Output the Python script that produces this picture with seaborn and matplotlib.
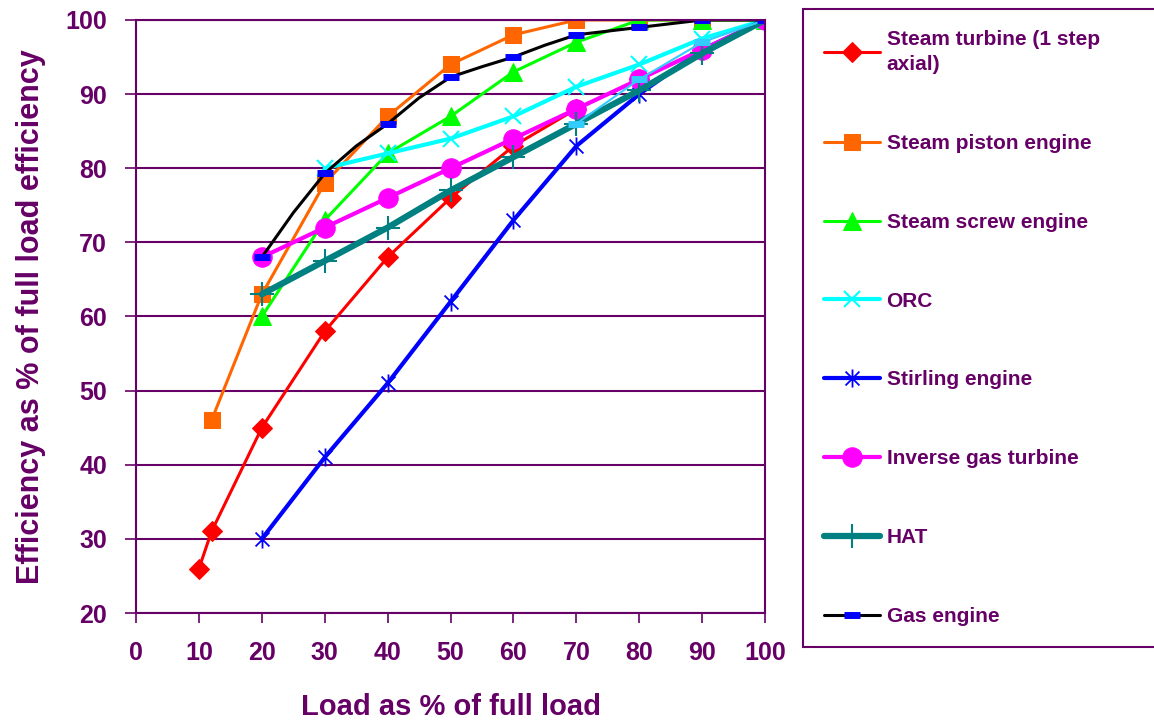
import seaborn as sns
import numpy as np
import pandas as pd
import matplotlib.pyplot as plt
from matplotlib.path import Path

# values
turbine_load = [10, 12, 20, 30, 40, 50, 60, 70, 80, 90, 100]
turbine_eff = [26, 31, 45, 58, 68, 76, 83, 88, 92, 96, 100]
piston_load = [12, 20, 30, 40, 50, 60, 70, 80, 90, 100]
piston_eff = [46, 63, 78, 87, 94, 98, 100, 100, 100, 100]
screw_load = [20, 30, 40, 50, 60, 70, 80, 90, 100]
screw_eff = [60, 73, 82, 87, 93, 97, 100, 100, 100]
orc_load = [30, 40, 50, 60, 70, 80, 90, 100]
orc_eff = [80, 82, 84, 87, 91, 94, 97.5, 100]
stirling_load = [20, 30, 40, 50, 60, 70, 80, 90, 100]
stirling_eff = [30, 41, 51, 62, 73, 83, 90, 96, 100]
igt_load = [20, 30, 40, 50, 60, 70, 80, 90, 100]
igt_eff = [68, 72, 76, 80, 84, 88, 92, 96, 100]
hat_load = [20, 30, 40, 50, 60, 70, 80, 90, 100]
hat_eff = [63, 67.5, 72, 77, 81.5, 86, 90.5, 95.5, 100]
gas_load = [20, 25, 30, 35, 40, 45, 50, 55, 60, 65, 70, 75, 80, 85, 90, 95, 100]
gas_eff = [68, 74, 79.3, 83, 86, 89.5, 92.3, 93.7, 95, 96.6, 98, 98.5, 99, 99.5, 100, 100, 100]
extra_load = [70, 80, 90, 100]
extra_eff = [86, 92, 97, 100]

labels = ['Steam turbine (1 step\naxial)', 'Steam piston engine', 'Steam screw engine',
          'ORC', 'Stirling engine', 'Inverse gas turbine', 'HAT', 'Gas engine']

purple = '#660066'

asterisk = Path([(-1, -1), (1, 1), (-1, 1), (1, -1), (0, -1.3), (0, 1.3)],
                [Path.MOVETO, Path.LINETO, Path.MOVETO, Path.LINETO, Path.MOVETO, Path.LINETO])

sns.set_style('white')
plt.rcParams['font.family'] = ['Liberation Sans', 'DejaVu Sans']
plt.rcParams['font.weight'] = 'bold'

fig = plt.figure(figsize=(11.54, 7.24), dpi=100)
ax = fig.add_axes([0.1179, 0.1533, 0.5451, 0.8191])

sns.lineplot(x=turbine_load, y=turbine_eff, ax=ax, color='#FF0000', lw=2.2, marker='D',
             ms=10, mec='#FF0000', label=labels[0])
sns.lineplot(x=piston_load, y=piston_eff, ax=ax, color='#FF6600', lw=2.2, marker='s',
             ms=12, mec='#FF6600', label=labels[1])
sns.lineplot(x=screw_load, y=screw_eff, ax=ax, color='#00FF00', lw=2.2, marker='^',
             ms=13, mec='#00FF00', label=labels[2])
sns.lineplot(x=orc_load, y=orc_eff, ax=ax, color='#00FFFF', lw=3, marker='x',
             ms=11, mew=1.5, mec='#00FFFF', label=labels[3])
sns.lineplot(x=stirling_load, y=stirling_eff, ax=ax, color='#0000FF', lw=3, marker=asterisk,
             ms=13, mew=1.3, mec='#0000FF', mfc='none', label=labels[4])
sns.lineplot(x=igt_load, y=igt_eff, ax=ax, color='#FF00FF', lw=3, marker='o',
             ms=14, mec='#FF00FF', label=labels[5])
sns.lineplot(x=hat_load, y=hat_eff, ax=ax, color='#008080', lw=4.5, marker='+',
             ms=17, mew=1.5, mec='#008080', label=labels[6])
sns.lineplot(x=extra_load, y=extra_eff, ax=ax, color='#33CCFF', lw=1.5, marker='_',
             ms=11, mew=5, mec='#33CCFF', legend=False)
sns.lineplot(x=gas_load, y=gas_eff, ax=ax, color='black', lw=2.2, marker='_',
             ms=11, mew=5, mec='#0000FF', markevery=2, label=labels[7])

ax.set_xlim(0, 100)
ax.set_ylim(20, 100)
ax.set_xticks(np.arange(0, 101, 10))
ax.set_yticks(np.arange(20, 101, 10))
ax.yaxis.grid(True, color=purple, lw=1.5)
ax.xaxis.grid(False)
for s in ax.spines.values():
    s.set_color(purple)
    s.set_linewidth(1.5)
ax.tick_params(axis='x', direction='out', length=7.5, width=1.2, color=purple,
               labelcolor=purple, labelsize=18, pad=13, bottom=True)
ax.tick_params(axis='y', direction='out', length=8, width=1.2, color=purple,
               labelcolor=purple, labelsize=18, pad=13, left=True)
for t in ax.get_xticklabels() + ax.get_yticklabels():
    t.set_fontweight('bold')

ax.set_xlabel('Load as % of full load', fontsize=21, fontweight='bold', color=purple,
              labelpad=20)
ax.set_ylabel('Efficiency as % of full load efficiency', fontsize=22, fontweight='bold',
              color=purple, labelpad=14)

ax.get_legend().remove()
handles, labs = ax.get_legend_handles_labels()
leg = fig.legend(handles, labs, loc='upper left', bbox_to_anchor=(0.696, 0.988, 0.36, 0.0),
                 mode='expand', fontsize=15, labelspacing=2.87, handlelength=2.7,
                 handletextpad=0.3, borderpad=1.0, borderaxespad=0, fancybox=False,
                 framealpha=1, edgecolor=purple)
leg.get_frame().set_linewidth(1.5)
for t in leg.get_texts():
    t.set_color(purple)
    t.set_fontweight('bold')
    t.set_linespacing(1.45)

fig.savefig('out.png', dpi=100)
